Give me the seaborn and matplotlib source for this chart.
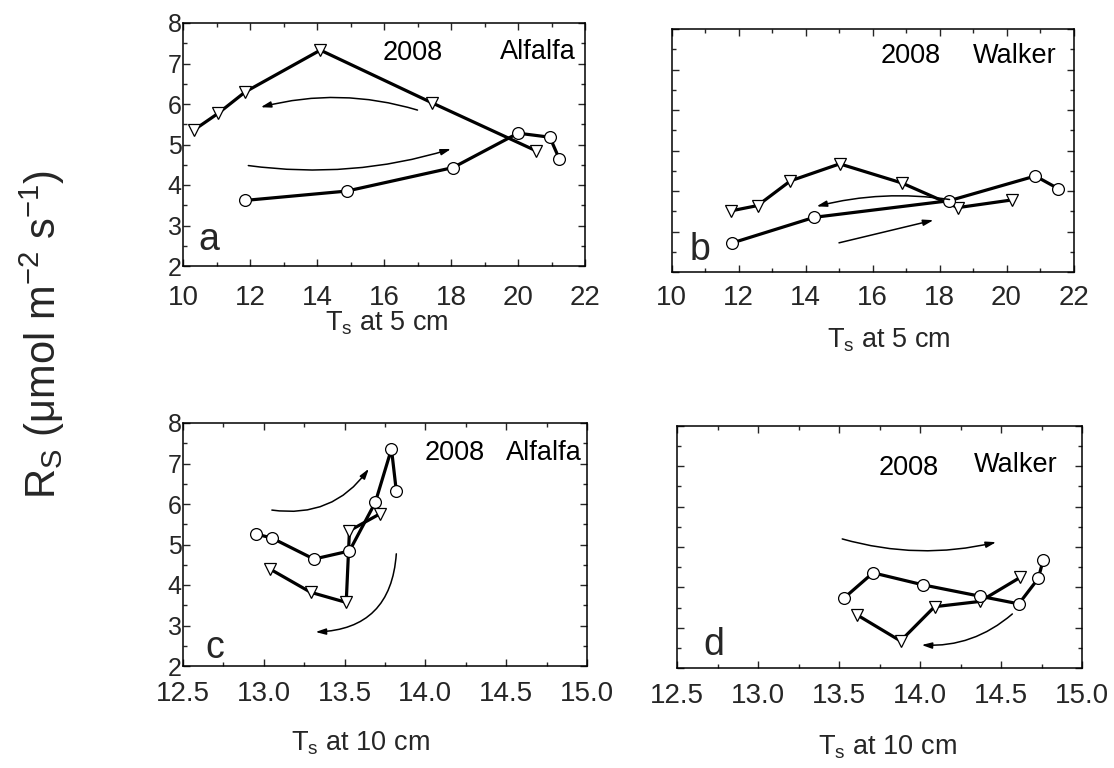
import matplotlib
matplotlib.use("Agg")
import matplotlib.pyplot as plt
import seaborn as sns
from matplotlib import font_manager
from matplotlib.ticker import MultipleLocator, FormatStrFormatter

# ---------------- data ----------------
a_circ_x = [11.86, 14.89, 18.06, 20.00, 20.95, 21.23]
a_circ_y = [3.62, 3.85, 4.43, 5.28, 5.18, 4.65]
a_tri_x = [10.33, 11.05, 11.86, 14.10, 17.43, 20.55]
a_tri_y = [5.36, 5.77, 6.30, 7.33, 6.03, 4.84]

b_circ_x = [11.82, 14.26, 18.29, 20.86, 21.54]
b_circ_y = [2.72, 3.35, 3.76, 4.37, 4.06]
b_tri_x = [11.78, 12.57, 13.55, 15.02, 16.87, 18.55, 20.17]
b_tri_y = [3.51, 3.64, 4.25, 4.67, 4.20, 3.59, 3.78]

c_circ_x = [12.95, 13.05, 13.31, 13.53, 13.69, 13.79, 13.82]
c_circ_y = [5.26, 5.16, 4.64, 4.84, 6.04, 7.36, 6.32]
c_tri_x = [13.04, 13.29, 13.51, 13.53, 13.72]
c_tri_y = [4.39, 3.82, 3.57, 5.34, 5.76]

d_circ_x = [13.53, 13.71, 14.02, 14.37, 14.61, 14.73, 14.76]
d_circ_y = [3.73, 4.36, 4.06, 3.78, 3.59, 4.22, 4.67]
d_tri_x = [13.61, 13.88, 14.09, 14.37, 14.62]
d_tri_y = [3.32, 2.67, 3.52, 3.65, 4.25]

panel_letters = ["a", "b", "c", "d"]
sites = ["Alfalfa", "Walker", "Alfalfa", "Walker"]
year = "2008"
xlabels = [r"T$_\mathregular{s}$ at 5 cm", r"T$_\mathregular{s}$ at 5 cm",
           r"T$_\mathregular{s}$ at 10 cm", r"T$_\mathregular{s}$ at 10 cm"]
ylabel = r"R$_\mathregular{S}$ (μmol m$^\mathregular{-2}$ s$^\mathregular{-1}$)"

# ---------------- style ----------------
sns.set_style("ticks")
plt.rcParams["font.family"] = ["Liberation Sans", "DejaVu Sans"]
plt.rcParams["axes.linewidth"] = 1.1
names = {f.name for f in font_manager.fontManager.ttflist}
narrow = "Liberation Sans Narrow" in names

fig = plt.figure(figsize=(11.14, 7.68), dpi=100)
W, H = 1114, 768
def pos(l, r, t, b):
    return [l / W, 1 - b / H, (r - l) / W, (b - t) / H]

axs = [fig.add_axes(pos(183, 585, 23, 266)),
       fig.add_axes(pos(671.5, 1073.5, 29, 272)),
       fig.add_axes(pos(183, 587, 423, 666)),
       fig.add_axes(pos(677, 1082, 426, 668))]

line_kw = dict(color="black", linewidth=2.3, markersize=8.5,
               markerfacecolor="white", markeredgecolor="black",
               markeredgewidth=0.9, sort=False, estimator=None)

series = [((a_circ_x, a_circ_y), (a_tri_x, a_tri_y)),
          ((b_circ_x, b_circ_y), (b_tri_x, b_tri_y)),
          ((c_circ_x, c_circ_y), (c_tri_x, c_tri_y)),
          ((d_circ_x, d_circ_y), (d_tri_x, d_tri_y))]

for ax, (circ, tri) in zip(axs, series):
    sns.lineplot(x=tri[0], y=tri[1], marker="v", ax=ax, **line_kw)
    sns.lineplot(x=circ[0], y=circ[1], marker="o", ax=ax, **line_kw)

# axes formatting
xl = [(10, 22), (10, 22), (12.5, 15), (12.5, 15)]
xmaj = [2, 2, 0.5, 0.5]
xpads = [14, 9.5, 11, 10.5]
label_coords = [(0.507, -0.18), (0.54, -0.226), (0.44, -0.26), (0.52, -0.27)]
for i, ax in enumerate(axs):
    ax.set_xlim(*xl[i])
    ax.set_ylim(2, 8)
    ax.xaxis.set_major_locator(MultipleLocator(xmaj[i]))
    ax.xaxis.set_minor_locator(MultipleLocator(xmaj[i] / 2))
    ax.yaxis.set_major_locator(MultipleLocator(1))
    ax.yaxis.set_minor_locator(MultipleLocator(0.5))
    if i >= 2:
        ax.xaxis.set_major_formatter(FormatStrFormatter("%.1f"))
    ax.tick_params(which="both", direction="in", top=True, right=True, width=1.0)
    ax.tick_params(which="major", length=5)
    ax.tick_params(which="minor", length=3)
    ax.tick_params(axis="x", which="major", labelsize=20, pad=xpads[i])
    ax.tick_params(axis="y", which="major", labelsize=18, pad=1)
    if i in (1, 3):
        ax.tick_params(axis="y", labelleft=False)
    ax.set_ylabel("")
    ax.set_xlabel(xlabels[i], fontsize=19.5)
    ax.xaxis.set_label_coords(*label_coords[i])
    for s in ax.spines.values():
        s.set_visible(True)
        s.set_linewidth(1.1)
        s.set_color("black")

# text annotations
txt = dict(fontsize=19.5, va="center", color="black")
axs[0].text(16.85, 7.25, year, ha="center", **txt)
axs[0].text(19.47, 7.28, sites[0], ha="left", **txt)
axs[1].text(17.13, 7.33, year, ha="center", **txt)
axs[1].text(19.0, 7.33, sites[1], ha="left", **txt)
axs[2].text(14.18, 7.26, year, ha="center", **txt)
axs[2].text(14.5, 7.26, sites[2], ha="left", **txt)
axs[3].text(13.93, 6.95, year, ha="center", **txt)
axs[3].text(14.33, 7.03, sites[3], ha="left", **txt)

letter_pos = [(10.45, 2.4), (10.53, 2.29), (12.64, 2.2), (12.66, 2.33)]
for ax, let, (lx, ly) in zip(axs, panel_letters, letter_pos):
    ax.text(lx, ly, let, fontsize=27, ha="left", va="baseline")

# arrows (start -> end, curvature)
arrows = [
    (0, (17.0, 5.85), (12.32, 5.92), 0.14),
    (0, (11.95, 4.48), (18.0, 4.89), 0.11),
    (1, (18.3, 3.79), (14.33, 3.62), 0.10),
    (1, (15.0, 2.72), (17.82, 3.28), 0.0),
    (2, (13.05, 5.85), (13.65, 6.87), 0.30),
    (2, (13.82, 4.77), (13.32, 2.84), -0.45),
    (3, (13.52, 5.20), (14.47, 5.12), 0.13),
    (3, (14.57, 3.34), (14.01, 2.57), -0.20),
]
for idx, start, end, rad in arrows:
    axs[idx].annotate("", xy=end, xytext=start,
                      arrowprops=dict(arrowstyle="-|>,head_length=0.6,head_width=0.18",
                                      color="black", lw=1.1, shrinkA=0, shrinkB=0,
                                      connectionstyle=f"arc3,rad={rad}"))

# big shared y label
if narrow:
    fig.text(0.038, 0.564, ylabel, rotation=90, ha="center", va="center",
             fontsize=36, family=["Liberation Sans Narrow", "DejaVu Sans"])
else:
    fig.text(0.038, 0.564, ylabel, rotation=90, ha="center", va="center",
             fontsize=30)

fig.savefig("out.png", dpi=100)
